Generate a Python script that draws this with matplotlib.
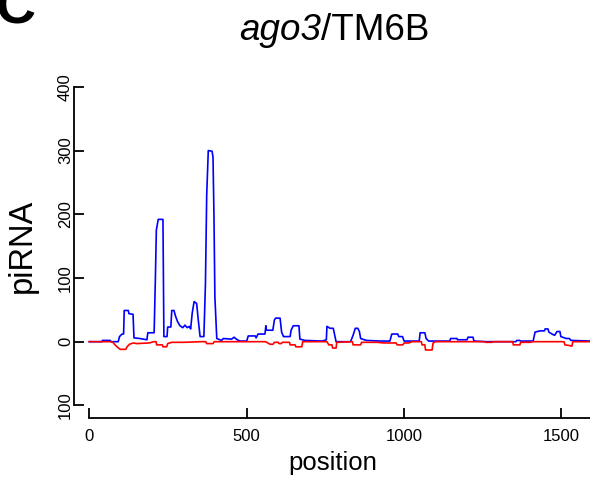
import numpy as np
import matplotlib
matplotlib.use("Agg")
import matplotlib.pyplot as plt

plt.rcParams['font.family'] = ['Liberation Sans', 'DejaVu Sans']

# 数据：位置 / piRNA 数量（蓝色为正义链，红色为反义链）
blue_pos = [0, 40, 42, 66, 70, 92, 96, 104, 109, 111, 124, 126, 139, 142, 160, 183, 186, 206,
            210, 213, 219, 234, 237, 247, 249, 259, 262, 269, 274, 280, 288, 297, 304, 311,
            318, 322, 327, 333, 341, 346, 352, 364, 369, 373, 378, 390, 393, 396, 399, 405,
            420, 426, 452, 460, 470, 479, 500, 505, 527, 530, 536, 558, 561, 563, 583, 588,
            592, 606, 611, 617, 638, 641, 648, 666, 669, 685, 740, 753, 755, 765, 775, 784,
            830, 838, 845, 853, 858, 862, 880, 925, 955, 961, 980, 983, 995, 1000, 1048, 1051,
            1066, 1070, 1078, 1145, 1148, 1168, 1170, 1200, 1203, 1219, 1222, 1260, 1355, 1358,
            1367, 1370, 1410, 1416, 1432, 1446, 1448, 1457, 1460, 1470, 1478, 1486, 1495, 1498,
            1515, 1525, 1530, 1590]
blue_val = [0, 0, 2, 2, 0, 0, 8, 12, 12, 49, 49, 44, 43, 6, 5, 3, 14, 14,
            100, 175, 192, 192, 8, 8, 23, 23, 49, 49, 40, 32, 25, 22, 26, 22,
            24, 20, 45, 63, 60, 35, 8, 8, 90, 230, 300, 299, 290, 200, 70, 5,
            2, 5, 4, 7, 3, 1, 1, 9, 9, 6, 12, 12, 25, 18, 18, 34,
            37, 37, 15, 8, 8, 18, 25, 25, 4, 2, 1, 3, 24, 21, 21, 0,
            0, 10, 21, 21, 16, 5, 2, 1, 1, 12, 12, 8, 8, 1, 1, 14,
            14, 5, 1, 1, 5, 5, 3, 3, 7, 7, 1, 0, 0, 2,
            2, 1, 1, 15, 17, 17, 20, 20, 15, 12, 10, 16, 16, 8,
            5, 5, 2, 1]

red_pos = [0, 66, 75, 80, 88, 98, 116, 120, 128, 140, 150, 190, 205, 212, 214, 232, 234, 246,
           249, 262, 300, 355, 370, 373, 393, 397, 405, 560, 574, 584, 588, 600, 603, 610,
           613, 636, 638, 654, 656, 675, 678, 740, 755, 761, 771, 773, 784, 786, 836, 838,
           862, 865, 915, 935, 975, 978, 996, 1000, 1015, 1025, 1055, 1057, 1066, 1068, 1089,
           1092, 1100, 1255, 1260, 1280, 1283, 1345, 1347, 1368, 1370, 1400, 1410, 1508, 1511,
           1525, 1533, 1536, 1590]
red_val = [0, 0, -1, -4, -8, -12, -12, -8, -4, -2, -3, -2, 0, 0, -5, -5, -8, -8,
           -3, -1, -1, 0, 0, -3, -3, 0, 0, 0, -4, -4, -1, -1, -3, -3,
           -1, -1, -5, -5, -8, -8, 0, 0, 0, -5, -5, -10, -10, -1, 0, -5,
           -5, -1, -1, -2, -2, -5, -5, -2, -2, 0, 0, -5, -5, -13, -13,
           -2, 0, 0, -1, -1, 0, 0, -5, -5, -1, -1, 0, 0, -5,
           -6, -7, 0, 0]

y_ticks = [-100, 0, 100, 200, 300, 400]
y_tick_labels = ['100', '0', '100', '200', '300', '400']
x_ticks = [0, 500, 1000, 1500]

# 创建画布 590x480
fig = plt.figure(figsize=(5.9, 4.8), dpi=100)
ax = fig.add_axes([74.3 / 590, (480 - 418) / 480, 1 - 74.3 / 590, (418 - 80) / 480])

ax.plot(blue_pos, blue_val, color='#0000FF', lw=1.2, clip_on=False)
ax.plot(red_pos, red_val, color='#FF0000', lw=1.2, clip_on=False)

ax.set_xlim(-47.6, 1590.6)
ax.set_ylim(-119.8, 410.8)

# R 风格的坐标轴
ax.spines['top'].set_visible(False)
ax.spines['right'].set_visible(False)
ax.spines['left'].set_bounds(-100, 400)
ax.spines['bottom'].set_bounds(0, 1700)
for s in ['left', 'bottom']:
    ax.spines[s].set_linewidth(1.3)

ax.set_xticks(x_ticks)
ax.set_xticklabels([str(v) for v in x_ticks])
ax.set_yticks(y_ticks)
ax.set_yticklabels(y_tick_labels, rotation=90, va='center')
ax.tick_params(axis='both', direction='in', length=7.2, width=1.3, labelsize=12)
ax.tick_params(axis='x', pad=8)
ax.tick_params(axis='y', pad=1)

fig.text(333 / 590, 1 - 463 / 480, 'position', ha='center', va='center', fontsize=18.5)
fig.text(22 / 590, 1 - 246 / 480, 'piRNA', ha='center', va='center', rotation=90, fontsize=23.5)

# 标题：ago3 斜体，/TM6B 正体，两段拼接后居中
title_y = 1 - 31 / 480
t1 = fig.text(0, title_y, 'ago3', fontstyle='italic', ha='left', va='center', fontsize=26.5)
t2 = fig.text(0, title_y, '/TM6B', ha='left', va='center', fontsize=26.5)
fig.canvas.draw()
r = fig.canvas.get_renderer()
w1 = t1.get_window_extent(r).width
w2 = t2.get_window_extent(r).width
x0 = 334 - (w1 + w2) / 2
t1.set_x(x0 / 590)
t2.set_x((x0 + w1) / 590)

# 面板编号 C（原图上方被裁掉一半）
fig.text(-4 / 590, 1 - 24 / 480, 'C', ha='left', va='baseline', fontsize=40, fontweight='bold')

fig.savefig('out.png', dpi=100)
